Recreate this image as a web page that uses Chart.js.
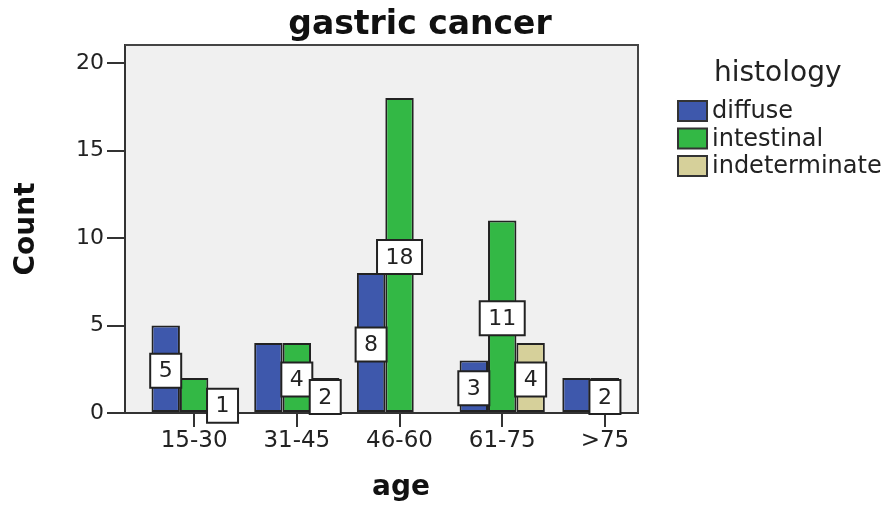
<!DOCTYPE html>
<html lang="en">
<head>
    <meta charset="UTF-8">
    <title>gastric cancer</title>
    <script src="https://cdn.jsdelivr.net/npm/chart.js"></script>
    <style>
        html, body {
            margin: 0;
            padding: 0;
            background: #ffffff;
        }
        canvas {
            display: block;
        }
    </style>
</head>
<body>

    <canvas id="ageChart" width="893" height="508"></canvas>

    <script>
        const ageGroups = ["15-30", "31-45", "46-60", "61-75", ">75"];
        const diffuse = [5, 4, 8, 3, 2];
        const intestinal = [2, 4, 18, 11, 2];
        const indeterminate = [1, 2, 0, 4, 0];
        const yTicks = [0, 5, 10, 15, 20];

        // SPSS only printed some of the value labels
        const diffuseLabels = [true, false, true, true, false];
        const intestinalLabels = [false, true, true, true, true];
        const indeterminateLabels = [true, true, false, true, false];

        const FONT = '"DejaVu Sans", "Liberation Sans", sans-serif';

        function toPoints(values) {
            return values.map((v, i) => ({ x: i, y: v }));
        }

        // grey plot box with a frame on top / right, plus titles and legend
        const plotBox = {
            id: "plotBox",
            beforeDraw(chart) {
                const { ctx, chartArea: a } = chart;
                ctx.save();
                ctx.fillStyle = "#f0f0f0";
                ctx.fillRect(a.left, a.top, a.right - a.left, a.bottom - a.top);
                ctx.restore();
            },
            afterDraw(chart) {
                const { ctx, chartArea: a } = chart;
                ctx.save();
                ctx.strokeStyle = "#444";
                ctx.lineWidth = 2;
                ctx.beginPath();
                ctx.moveTo(a.left, a.top);
                ctx.lineTo(a.right, a.top);
                ctx.lineTo(a.right, a.bottom);
                ctx.stroke();

                // title
                ctx.fillStyle = "#111";
                ctx.font = "bold 33px " + FONT;
                ctx.textAlign = "center";
                ctx.textBaseline = "alphabetic";
                ctx.fillText("gastric cancer", 420, 34);

                // x axis title (SPSS centres it a bit right of the plot middle)
                ctx.font = "bold 28px " + FONT;
                ctx.textBaseline = "middle";
                ctx.fillText("age", 401, 488);

                // legend
                ctx.textAlign = "left";
                ctx.font = "28px " + FONT;
                ctx.fillStyle = "#222";
                ctx.fillText("histology", 714, 74);
                ctx.font = "24px " + FONT;
                chart.data.datasets.forEach((ds, i) => {
                    const cy = 111 + i * 27.5;
                    ctx.fillStyle = ds.backgroundColor;
                    ctx.fillRect(678, cy - 10, 29, 20);
                    ctx.strokeStyle = "#333";
                    ctx.lineWidth = 2;
                    ctx.strokeRect(678, cy - 10, 29, 20);
                    ctx.fillStyle = "#222";
                    ctx.fillText(ds.label, 712, cy + 1);
                });
                ctx.restore();
            }
        };

        // white boxed value labels in the middle of the bars
        const valueBoxes = {
            id: "valueBoxes",
            afterDatasetsDraw(chart) {
                const ctx = chart.ctx;
                ctx.save();
                ctx.font = "22px " + FONT;
                ctx.textAlign = "center";
                ctx.textBaseline = "middle";
                chart.data.datasets.forEach((ds, i) => {
                    const meta = chart.getDatasetMeta(i);
                    meta.data.forEach((bar, j) => {
                        if (!ds.showLabels[j]) return;
                        const p = bar.getProps(["x", "y", "base", "width"], true);
                        const text = String(ds.data[j].y);
                        const tw = ctx.measureText(text).width;
                        const w = Math.max(p.width + 1, tw + 17);
                        const h = 34;
                        const cy = (p.y + p.base) / 2 + 2;
                        ctx.fillStyle = "#ffffff";
                        ctx.fillRect(p.x - w / 2, cy - h / 2, w, h);
                        ctx.strokeStyle = "#222";
                        ctx.lineWidth = 2;
                        ctx.strokeRect(p.x - w / 2, cy - h / 2, w, h);
                        ctx.fillStyle = "#222";
                        ctx.fillText(text, p.x, cy + 1);
                    });
                });
                ctx.restore();
            }
        };

        const barStyle = {
            borderColor: "#222",
            borderWidth: 2,
            borderSkipped: false,
            categoryPercentage: 0.83,
            barPercentage: 1
        };

        const ctx = document.getElementById("ageChart").getContext("2d");
        const ageChart = new Chart(ctx, {
            type: "bar",
            data: {
                datasets: [
                    Object.assign({
                        label: "diffuse",
                        data: toPoints(diffuse),
                        backgroundColor: "#3e58ac",
                        showLabels: diffuseLabels
                    }, barStyle),
                    Object.assign({
                        label: "intestinal",
                        data: toPoints(intestinal),
                        backgroundColor: "#33b845",
                        showLabels: intestinalLabels
                    }, barStyle),
                    Object.assign({
                        label: "indeterminate",
                        data: toPoints(indeterminate),
                        backgroundColor: "#d6d09a",
                        showLabels: indeterminateLabels
                    }, barStyle)
                ]
            },
            options: {
                responsive: false,
                animation: false,
                devicePixelRatio: 1,
                layout: { padding: { top: 45, right: 255, left: 0, bottom: 0 } },
                plugins: {
                    legend: { display: false },
                    title: { display: false },
                    tooltip: { enabled: false }
                },
                scales: {
                    x: {
                        type: "linear",
                        offset: false,
                        min: -0.673,
                        max: 4.322,
                        afterBuildTicks: (scale) => {
                            scale.ticks = ageGroups.map((_, i) => ({ value: i }));
                        },
                        afterFit: (scale) => { scale.height = 95; },
                        ticks: {
                            callback: (v) => ageGroups[v],
                            color: "#222",
                            font: { family: FONT, size: 23 },
                            padding: 0,
                            maxRotation: 0
                        },
                        grid: {
                            offset: false,
                            drawOnChartArea: false,
                            tickLength: 14,
                            color: "#333",
                            lineWidth: 2
                        },
                        border: { color: "#333", width: 2 },
                        title: { display: false }
                    },
                    y: {
                        min: 0,
                        max: 21.03,
                        afterBuildTicks: (scale) => {
                            scale.ticks = yTicks.map((v) => ({ value: v }));
                        },
                        afterFit: (scale) => { scale.width = 125; },
                        ticks: {
                            color: "#222",
                            font: { family: FONT, size: 22 },
                            padding: 3
                        },
                        grid: {
                            drawOnChartArea: false,
                            tickLength: 18,
                            color: "#333",
                            lineWidth: 2
                        },
                        border: { color: "#333", width: 2 },
                        title: {
                            display: true,
                            text: "Count",
                            color: "#111",
                            font: { family: FONT, size: 28, weight: "bold" },
                            padding: { top: 10, bottom: 0 }
                        }
                    }
                }
            },
            plugins: [plotBox, valueBoxes]
        });
    </script>

</body>
</html>
